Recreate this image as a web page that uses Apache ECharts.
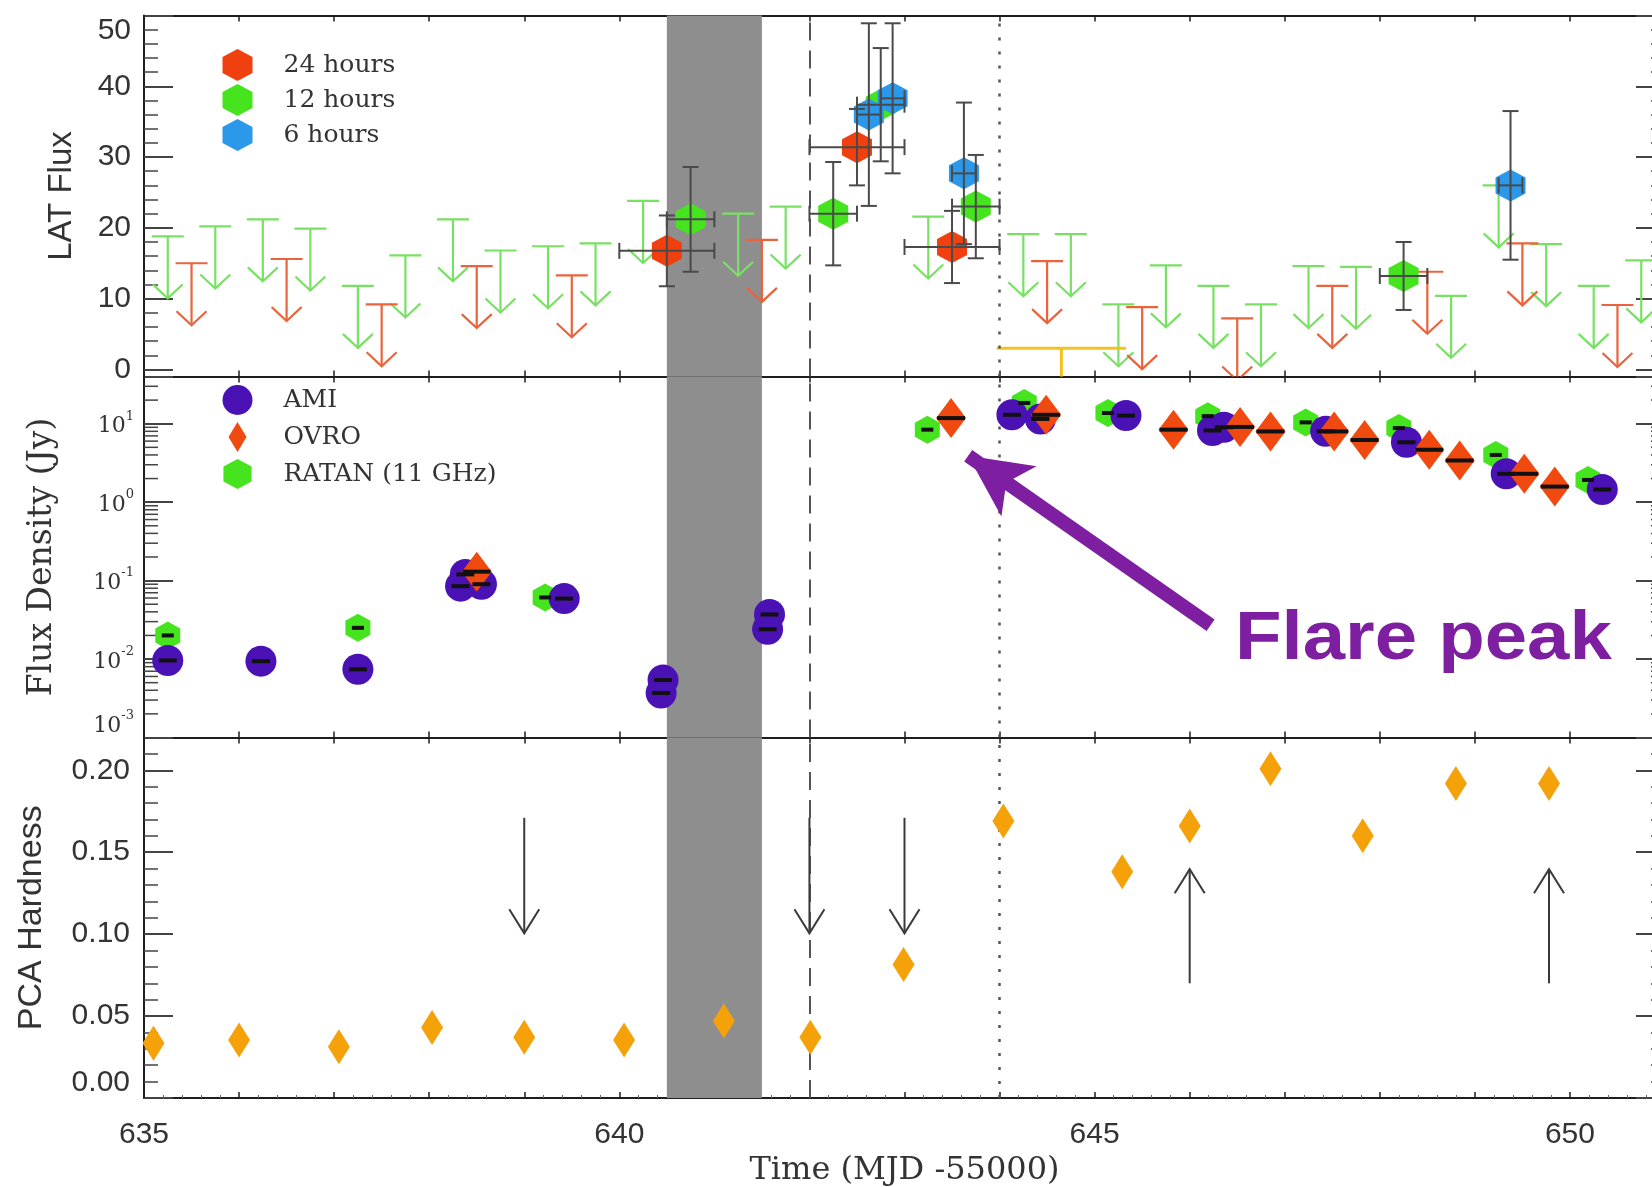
<!DOCTYPE html>
<html>
<head>
<meta charset="utf-8">
<script src="https://cdn.jsdelivr.net/npm/echarts@6/dist/echarts.min.js"></script>
<style>html,body{margin:0;padding:0;background:#fff}#c{width:1652px;height:1187px}</style>
</head>
<body>
<div id="c"></div>
<script>
// ================= DATA =================
const X_MIN = 635, X_MAX = 651;
const X_TICK_LABELS = [635, 640, 645, 650];

// Panel 1 – LAT flux detections: [time, flux, xErr, yErr]
const LAT24_POINTS = [[640.5,16.75,0.5,5.0],[642.5,31.4,0.5,5.4],[643.5,17.3,0.5,5.1]];
const LAT12_POINTS = [[640.75,21.2,0.25,7.4],[642.25,22.0,0.25,7.3],[642.75,37.4,0.25,8.0],[643.75,23.0,0.25,7.3],[648.25,13.2,0.25,4.8]];
const LAT6_POINTS  = [[642.625,36.0,0.125,12.9],[642.875,38.3,0.125,10.6],[643.625,27.7,0.125,10.0],[649.375,26.0,0.125,10.5]];
// Panel 1 – upper limits: [time, limit]
const LAT24_UL = [[635.5,15.0],[636.5,15.6],[637.5,9.2],[638.5,14.6],[639.5,13.3],[641.5,18.3],[644.5,15.3],[645.5,8.8],[646.5,7.2],[647.5,11.8],[648.5,13.8],[649.5,17.8],[650.5,9.1]];
const LAT12_UL = [[635.25,18.8],[635.75,20.2],[636.25,21.2],[636.75,19.9],[637.25,11.8],[637.75,16.1],[638.25,21.2],[638.75,16.8],[639.25,17.4],[639.75,17.8],[640.25,23.8],[641.25,22.0],[641.75,23.0],[643.25,21.6],[644.25,19.1],[644.75,19.1],[645.25,9.2],[645.75,14.7],[646.25,11.8],[646.75,9.2],[647.25,14.6],[647.75,14.5],[648.75,10.4],[649.25,26.0],[649.75,17.7],[650.25,11.8],[650.75,15.4]];
// long-bin upper limit: [centre time, limit, half width]
const LAT_LONG_UL = [[644.65,3.0,0.68]];

// Panel 2 – radio flux density (Jy): [time, flux]
const AMI   = [[635.25,0.0096],[636.23,0.0094],[637.25,0.0074],[638.33,0.085],[638.38,0.12],[638.55,0.09],[639.42,0.059],[640.46,0.0054],[640.44,0.0037],[641.58,0.037],[641.56,0.024],[644.13,13.0],[644.43,11.5],[645.33,12.7],[646.24,8.2],[646.36,9.0],[647.43,8.0],[648.28,5.8],[649.33,2.3],[650.34,1.45]];
const OVRO  = [[638.5,0.13],[643.49,11.8],[644.49,13.0],[645.83,8.4],[646.53,9.1],[646.85,7.97],[647.52,7.97],[647.84,6.2],[648.52,4.66],[648.84,3.4],[649.52,2.3],[649.84,1.58]];
const RATAN = [[635.25,0.020],[637.25,0.025],[639.22,0.061],[643.24,8.4],[644.26,18.4],[645.14,13.7],[646.19,12.5],[647.22,10.4],[648.2,8.8],[649.22,4.0],[650.19,1.92]];

// Panel 3 – PCA hardness: [time, hardness]
const PCA = [[635.10,0.0334],[636.0,0.0354],[637.05,0.0313],[638.03,0.043],[639.0,0.037],[640.05,0.0354],[641.1,0.047],[642.01,0.037],[642.99,0.0814],[644.04,0.169],[645.29,0.138],[646.0,0.166],[646.85,0.201],[647.82,0.160],[648.80,0.192],[649.78,0.192]];
// Panel 3 – arrows: [time, from, to]
const PCA_ARROWS = [[639.0,0.171,0.1005],[642.0,0.171,0.1005],[643.0,0.171,0.1005],[646.0,0.070,0.1396],[649.78,0.070,0.1396]];

// Markers shared by all panels
const GAP_BAND = [640.5, 641.5];
const DASHED_T = 642, DOTTED_T = 644;
// Log-axis minor tick values
const LOG_MINOR_TICKS = [0.002,0.003,0.004,0.005,0.006,0.007,0.008,0.009,0.02,0.03,0.04,0.05,0.06,0.07,0.08,0.09,0.2,0.3,0.4,0.5,0.6,0.7,0.8,0.9,2,3,4,5,6,7,8,9,20,30];
// Flare annotation: [tail], [head tip] in data coordinates
const FLARE_ARROW = [[646.22,0.0269],[643.67,3.9]];
const FLARE_TEXT = 'Flare peak';

// ================= STYLE =================
const HEX = 'path://M0,-16L15,-8L15,8L0,16L-15,8L-15,-8Z';
const DIAMOND = 'path://M0,-15L9,0L0,15L-9,0Z';
const SANS = 'Liberation Sans', SERIF = 'DejaVu Serif';
const C = {
  red:'#f0400f', green:'#46e41e', blue:'#2c98ea',
  redUL:'#ea633c', greenUL:'#78e163', yellow:'#f3c21c',
  ami:'#4a12b4', ovro:'#f04a10', ratan:'#46e41e', pca:'#f5a20a',
  err:'#4a4a4a', axis:'#1e1e1e', text:'#333', purple:'#7d1fa0', band:'#8e8e8e'
};
const UL_LEN = 62, UL_BAR = 16, UL_HW = 15, UL_HH = 14;

function clipOf(params){ const cs = params.coordSys; return {type:'rect', shape:{x:cs.x, y:cs.y, width:cs.width, height:cs.height}}; }

function ulRenderer(color){
  return function(params, api){
    const p = api.coord([api.value(0), api.value(1)]);
    const st = {stroke:color, lineWidth:2.2, fill:null};
    return {type:'group', clipPath:clipOf(params), children:[
      {type:'line', shape:{x1:p[0]-UL_BAR, y1:p[1], x2:p[0]+UL_BAR, y2:p[1]}, style:st},
      {type:'line', shape:{x1:p[0], y1:p[1], x2:p[0], y2:p[1]+UL_LEN}, style:st},
      {type:'polyline', shape:{points:[[p[0]-UL_HW,p[1]+UL_LEN-UL_HH],[p[0],p[1]+UL_LEN],[p[0]+UL_HW,p[1]+UL_LEN-UL_HH]]}, style:st}
    ]};
  };
}
function longUlRenderer(color){
  return function(params, api){
    const x = api.value(0), y = api.value(1), h = api.value(2);
    const p = api.coord([x,y]), l = api.coord([x-h,y]), r = api.coord([x+h,y]);
    const st = {stroke:color, lineWidth:3, fill:null};
    return {type:'group', clipPath:clipOf(params), children:[
      {type:'line', shape:{x1:l[0], y1:p[1], x2:r[0], y2:p[1]}, style:st},
      {type:'line', shape:{x1:p[0], y1:p[1], x2:p[0], y2:p[1]+UL_LEN}, style:st},
      {type:'polyline', shape:{points:[[p[0]-UL_HW,p[1]+UL_LEN-UL_HH],[p[0],p[1]+UL_LEN],[p[0]+UL_HW,p[1]+UL_LEN-UL_HH]]}, style:st}
    ]};
  };
}
function errRenderer(params, api){
  const x = api.value(0), y = api.value(1), xe = api.value(2), ye = api.value(3);
  const c = api.coord([x,y]), l = api.coord([x-xe,y]), r = api.coord([x+xe,y]);
  const t = api.coord([x,y+ye]), b = api.coord([x,y-ye]);
  const st = {stroke:C.err, lineWidth:2, fill:null}, k = 8;
  return {type:'group', children:[
    {type:'line', shape:{x1:c[0], y1:t[1], x2:c[0], y2:b[1]}, style:st},
    {type:'line', shape:{x1:c[0]-k, y1:t[1], x2:c[0]+k, y2:t[1]}, style:st},
    {type:'line', shape:{x1:c[0]-k, y1:b[1], x2:c[0]+k, y2:b[1]}, style:st},
    {type:'line', shape:{x1:l[0], y1:c[1], x2:r[0], y2:c[1]}, style:st},
    {type:'line', shape:{x1:l[0], y1:c[1]-k, x2:l[0], y2:c[1]+k}, style:st},
    {type:'line', shape:{x1:r[0], y1:c[1]-k, x2:r[0], y2:c[1]+k}, style:st}
  ]};
}
function dashRenderer(w){
  return function(params, api){
    const p = api.coord([api.value(0), api.value(1)]);
    return {type:'line', shape:{x1:p[0]-w/2, y1:p[1], x2:p[0]+w/2, y2:p[1]}, style:{stroke:'#111', lineWidth:4}};
  };
}
function logMinorRenderer(params, api){
  const cs = params.coordSys;
  const y = api.coord([X_MIN, api.value(1)])[1];
  const st = {stroke:'#444', lineWidth:1.5};
  return {type:'group', children:[
    {type:'line', shape:{x1:cs.x, y1:y, x2:cs.x+14, y2:y}, style:st},
    {type:'line', shape:{x1:cs.x+cs.width-14, y1:y, x2:cs.x+cs.width, y2:y}, style:st}
  ]};
}
function pcaArrowRenderer(params, api){
  const x = api.value(0);
  const a = api.coord([x, api.value(1)]), b = api.coord([x, api.value(2)]);
  const d = b[1] > a[1] ? 1 : -1;
  const st = {stroke:'#3a3a3a', lineWidth:2, fill:null};
  return {type:'group', children:[
    {type:'line', shape:{x1:a[0], y1:a[1], x2:b[0], y2:b[1]}, style:st},
    {type:'polyline', shape:{points:[[b[0]-15,b[1]-d*24],[b[0],b[1]],[b[0]+15,b[1]-d*24]]}, style:st}
  ]};
}

// ================= AXES =================
const GRIDS = [
  {left:144, right:-13, top:15.5, height:361, outerBoundsMode:'none'},
  {left:144, right:-13, top:376.5, height:361, outerBoundsMode:'none'},
  {left:144, right:-13, top:737.5, height:360.5, outerBoundsMode:'none'}
];
function xAx(gi, pos, labels){
  return {
    type:'value', gridIndex:gi, position:pos, min:X_MIN, max:X_MAX, interval:1,
    axisLine:{show:true, onZero:false, lineStyle:{color:C.axis, width:2}},
    axisTick:{show:true, inside:true, length:6, lineStyle:{color:C.axis, width:1.5}},
    minorTick:{show:labels, splitNumber:5, length:3, lineStyle:{color:'#666', width:1}},
    splitLine:{show:false},
    axisLabel:{show:labels, margin:22, color:C.text, fontFamily:SANS, fontSize:30,
      formatter:v => (X_TICK_LABELS.indexOf(v) >= 0 ? String(v) : '')},
    name: labels ? 'Time (MJD -55000)' : '', nameLocation:'middle', nameGap:57,
    nameTextStyle:{fontFamily:SERIF, fontSize:32, color:C.text}
  };
}
function yBase(gi, pos, labels){
  return {
    gridIndex:gi, position:pos,
    axisLine:{show:true, onZero:false, lineStyle:{color:C.axis, width:2}},
    axisTick:{show:true, inside:true, length:29, lineStyle:{color:'#444', width:2}},
    minorTick:{show:true, splitNumber:5, length:14, lineStyle:{color:'#444', width:1.5}},
    splitLine:{show:false}, nameLocation:'middle'
  };
}
const yAxes = [];
// panel 1
[['left',true],['right',false]].forEach(([pos,lab]) => yAxes.push(Object.assign(yBase(0,pos,lab), {
  type:'value', min:-1, max:50, splitNumber:5,
  axisLabel:{show:lab, margin:13, color:C.text, fontFamily:SANS, fontSize:30, verticalAlignMaxLabel:'top',
    formatter:v => (v % 10 === 0 ? String(v) : '')},
  name: lab ? 'LAT Flux' : '', nameGap:66, nameTextStyle:{fontFamily:SANS, fontSize:33, color:C.text}
})));
// panel 2 (log)
[['left',true],['right',false]].forEach(([pos,lab]) => yAxes.push(Object.assign(yBase(1,pos,lab), {
  type:'log', logBase:10, min:0.001, max:40,
  minorTick:{show:false},
  axisLabel:{show:lab, margin:10, color:C.text, verticalAlignMinLabel:'bottom',
    formatter:v => { const e = Math.log10(v); const r = Math.round(e); return Math.abs(e-r) < 1e-6 ? '{b|10}{s|' + r + '}' : ''; },
    rich:{b:{fontFamily:SERIF, fontSize:22, color:C.text, lineHeight:28, verticalAlign:'bottom'},
          s:{fontFamily:SERIF, fontSize:13, color:C.text, lineHeight:28, verticalAlign:'top'}}},
  name: lab ? 'Flux Density (Jy)' : '', nameGap:85, nameTextStyle:{fontFamily:SERIF, fontSize:33, color:C.text}
})));
// panel 3
[['left',true],['right',false]].forEach(([pos,lab]) => yAxes.push(Object.assign(yBase(2,pos,lab), {
  type:'value', min:0, max:0.22, interval:0.05,
  axisLabel:{show:lab, margin:14, color:C.text, fontFamily:SANS, fontSize:30, verticalAlignMinLabel:'bottom',
    formatter:v => (v > 0.2001 ? '' : v.toFixed(2))},
  name: lab ? 'PCA Hardness' : '', nameGap:95, nameTextStyle:{fontFamily:SANS, fontSize:34, color:C.text}
})));

const xAxes = [xAx(0,'bottom',false), xAx(0,'top',false), xAx(1,'bottom',false), xAx(1,'top',false), xAx(2,'bottom',true), xAx(2,'top',false)];

// ================= SERIES =================
function deco(gi){
  return {
    type:'line', xAxisIndex:gi*2, yAxisIndex:gi*2, data:[], z:1, silent:true,
    markArea:{silent:true, itemStyle:{color:C.band, opacity:1}, data:[[{xAxis:GAP_BAND[0]},{xAxis:GAP_BAND[1]}]]},
    markLine:{silent:true, symbol:'none', label:{show:false}, animation:false,
      data:[{xAxis:DASHED_T, lineStyle:{color:'#555', width:2, type:[18,10]}},
            {xAxis:DOTTED_T, lineStyle:{color:'#555', width:2.5, type:[3,11]}}]}
  };
}
const series = [
  deco(0), deco(1), deco(2),
  // panel 1
  {type:'custom', name:'12h UL', xAxisIndex:0, yAxisIndex:0, data:LAT12_UL, renderItem:ulRenderer(C.greenUL), z:3, silent:true},
  {type:'custom', name:'24h UL', xAxisIndex:0, yAxisIndex:0, data:LAT24_UL, renderItem:ulRenderer(C.redUL), z:3, silent:true},
  {type:'custom', name:'long UL', xAxisIndex:0, yAxisIndex:0, data:LAT_LONG_UL, renderItem:longUlRenderer(C.yellow), z:3, silent:true},
  {type:'scatter', name:'24 hours', xAxisIndex:0, yAxisIndex:0, data:LAT24_POINTS.map(d => [d[0], d[1]]), symbol:HEX, symbolSize:[30,32], itemStyle:{color:C.red, opacity:1}, z:4},
  {type:'scatter', name:'12 hours', xAxisIndex:0, yAxisIndex:0, data:LAT12_POINTS.map(d => [d[0], d[1]]), symbol:HEX, symbolSize:[30,32], itemStyle:{color:C.green, opacity:1}, z:5},
  {type:'scatter', name:'6 hours', xAxisIndex:0, yAxisIndex:0, data:LAT6_POINTS.map(d => [d[0], d[1]]), symbol:HEX, symbolSize:[30,32], itemStyle:{color:C.blue, opacity:1}, z:6},
  {type:'custom', name:'err24', xAxisIndex:0, yAxisIndex:0, data:LAT24_POINTS, renderItem:errRenderer, z:7, silent:true},
  {type:'custom', name:'err12', xAxisIndex:0, yAxisIndex:0, data:LAT12_POINTS, renderItem:errRenderer, z:7, silent:true},
  {type:'custom', name:'err6', xAxisIndex:0, yAxisIndex:0, data:LAT6_POINTS, renderItem:errRenderer, z:7, silent:true},
  // panel 2
  {type:'custom', name:'logminor', xAxisIndex:2, yAxisIndex:2, data:LOG_MINOR_TICKS.map(v => [X_MIN, v]), renderItem:logMinorRenderer, z:2, silent:true},
  {type:'scatter', name:'RATAN (11 GHz)', xAxisIndex:2, yAxisIndex:2, data:RATAN, symbol:HEX, symbolSize:[25,28], itemStyle:{color:C.ratan, opacity:1}, z:4},
  {type:'scatter', name:'AMI', xAxisIndex:2, yAxisIndex:2, data:AMI, symbol:'circle', symbolSize:31, itemStyle:{color:C.ami, opacity:1}, z:5},
  {type:'scatter', name:'OVRO', xAxisIndex:2, yAxisIndex:2, data:OVRO, symbol:DIAMOND, symbolSize:[30,40], itemStyle:{color:C.ovro, opacity:1}, z:6},
  {type:'custom', name:'ratanDash', xAxisIndex:2, yAxisIndex:2, data:RATAN, renderItem:dashRenderer(12), z:7, silent:true},
  {type:'custom', name:'amiDash', xAxisIndex:2, yAxisIndex:2, data:AMI, renderItem:dashRenderer(18), z:7, silent:true},
  {type:'custom', name:'ovroDash', xAxisIndex:2, yAxisIndex:2, data:OVRO, renderItem:dashRenderer(28), z:7, silent:true},
  {type:'line', name:'flare', xAxisIndex:2, yAxisIndex:2, data:[], z:9, silent:true,
    markLine:{silent:true, animation:false, symbol:['none','arrow'], symbolSize:[46,62], label:{show:false},
      lineStyle:{color:C.purple, width:14, type:'solid'},
      data:[[{coord:FLARE_ARROW[0]},{coord:FLARE_ARROW[1]}]]}},
  // panel 3
  {type:'scatter', name:'PCA', xAxisIndex:4, yAxisIndex:4, data:PCA, symbol:DIAMOND, symbolSize:[22,35], itemStyle:{color:C.pca, opacity:1}, z:5},
  {type:'custom', name:'pcaArrows', xAxisIndex:4, yAxisIndex:4, data:PCA_ARROWS, renderItem:pcaArrowRenderer, z:6, silent:true}
];

const option = {
  animation:false,
  backgroundColor:'#fff',
  textStyle:{fontFamily:SANS},
  grid:GRIDS,
  xAxis:xAxes,
  yAxis:yAxes,
  legend:[
    {data:['24 hours','12 hours','6 hours'], orient:'vertical', left:222.5, top:49, padding:0,
     itemWidth:30, itemHeight:32, itemGap:3, selectedMode:false,
     textStyle:{fontFamily:SERIF, fontSize:25, color:C.text, padding:[0,0,0,26]}},
    {data:['AMI','OVRO','RATAN (11 GHz)'], orient:'vertical', left:222.5, top:385, padding:0,
     itemWidth:30, itemHeight:30, itemGap:7, selectedMode:false,
     textStyle:{fontFamily:SERIF, fontSize:25, color:C.text, padding:[0,0,0,26]}}
  ],
  graphic:[
    {type:'text', x:1235, y:640, scaleX:1.12, silent:true,
     style:{text:FLARE_TEXT, font:'bold 68px "Liberation Sans"', fill:C.purple, align:'left', verticalAlign:'middle'}}
  ],
  series:series
};
const chart = echarts.init(document.getElementById('c'), null, {renderer:'canvas', width:1652, height:1187});
chart.setOption(option);
</script>
</body>
</html>
